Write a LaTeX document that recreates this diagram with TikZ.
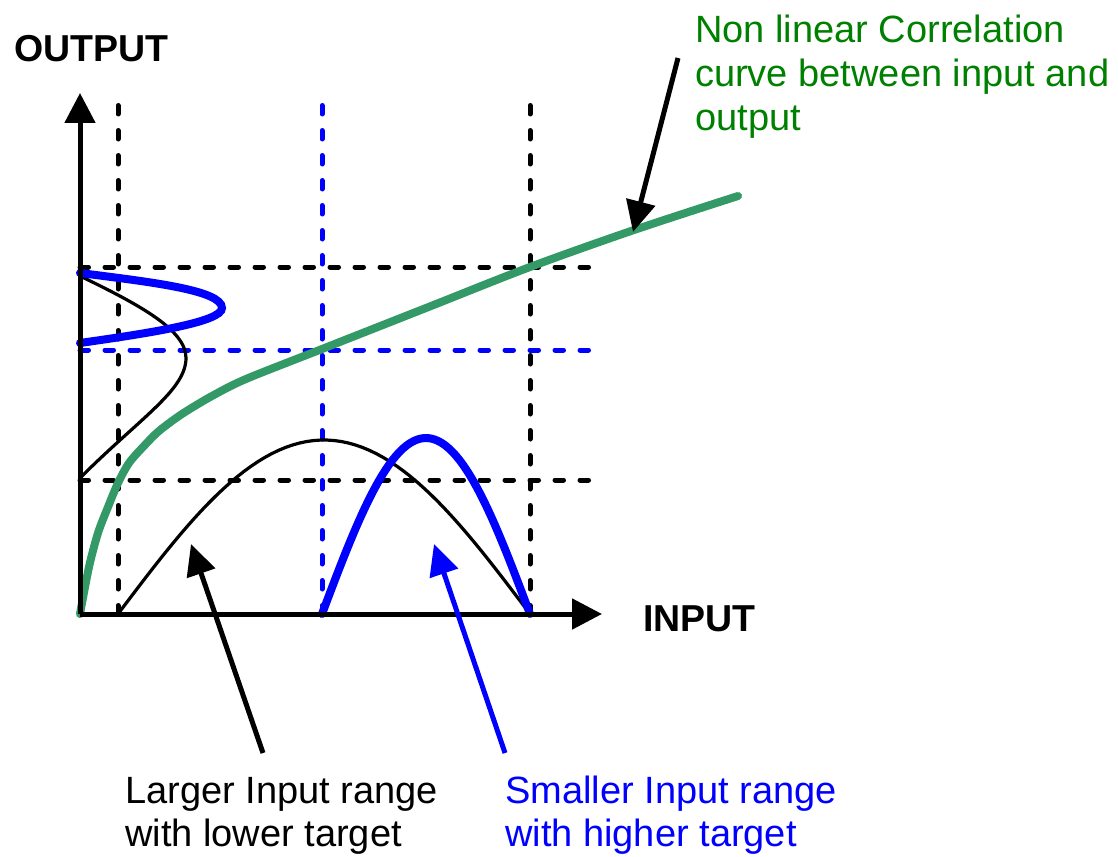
\documentclass[tikz,border=0pt]{standalone}
\usepackage{fontspec}
\setmainfont{Liberation Sans}
\usetikzlibrary{positioning,arrows.meta,calc}
\definecolor{curvegreen}{HTML}{339966}
\definecolor{textgreen}{HTML}{008000}
\definecolor{pureblue}{HTML}{0000FF}

\begin{document}
\begin{tikzpicture}[x=1pt,y=-1pt,
  axis/.style={line width=5pt, -{Triangle[length=30pt,width=30pt]}},
  gridline/.style={line width=5pt, line cap=round, dash pattern=on 8.5pt off 16.5pt},
  pointer/.style={line width=5pt, -{Triangle[length=31pt,width=29pt]}},
  lbl/.style={inner sep=0pt, anchor=base west, align=left, font=\fontsize{38}{43}\selectfont}]
\useasboundingbox (0,0) rectangle (1118,856);
% grid
\coordinate (origin) at (80,614);
\foreach \name/\xx/\top in {ga/118/97, gc/530/95} {
  \draw[gridline] (\xx,614) coordinate (\name b) -- (\xx,\top) coordinate (\name t);
}
\draw[gridline, pureblue] (322,614) coordinate (gbb) -- (322,93) coordinate (gbt);
\foreach \name/\yy in {ha/267, hc/480} {
  \draw[gridline] (80,\yy) coordinate (\name l) -- (596,\yy) coordinate (\name r);
}
\draw[gridline, pureblue] (80,350) coordinate (hbl) -- (596,350) coordinate (hbr);
% distributions
\draw[line width=3.2pt] plot[domain=-1:1, samples=60] ({324+206*\x},{614-174*cos(90*\x)});
\draw[line width=3.2pt] (80,276) .. controls (140,305) and (186,330) .. (186,358)
  .. controls (186,390) and (140,418) .. (80,478);
\draw[pureblue, line width=8pt, line cap=round] plot[domain=-1:1, samples=60] ({426+104*\x},{614-176*cos(90*\x)});
\draw[pureblue, line width=8pt, line cap=round] (80,273) .. controls (150,282) and (222,290) .. (222,308)
  .. controls (222,322) and (150,333) .. (80,343);
% correlation curve
\draw[curvegreen, line width=8pt, line cap=round] plot[smooth, tension=0.5] coordinates
  {(80,614) (89,567) (98,533) (108,507) (118,483) (129,463) (143,447) (159,431) (182,414)
   (212,396) (246,379) (322,349) (426,308) (530,267) (634,230) (738,196)};
% axes
\draw[axis] (origin) -- (80,93) coordinate (ytip);
\draw[axis] (origin) -- (602,614) coordinate (xtip);
\node[inner sep=0pt, anchor=base west, font=\bfseries\fontsize{37.5}{42}\selectfont] (outlbl) at (14,62) {OUTPUT};
\node[inner sep=0pt, anchor=base west, font=\bfseries\fontsize{37.5}{42}\selectfont] (inlbl) at (643,631) {INPUT};
% labels
\node[lbl, textgreen, font=\fontsize{38}{44}\selectfont] (corrlbl) at (695,131) {Non linear Correlation\\curve between input and\\output};
\node[lbl] (largelbl) at (125,846) {Larger Input range\\with lower target};
\node[lbl, pureblue] (smalllbl) at (505,846) {Smaller Input range\\with higher target};
\coordinate (corrtail) at (678,58);
\coordinate (corrtip) at (633,232);
\coordinate (largetail) at (263,753);
\coordinate (largetip) at (191,544);
\coordinate (smalltail) at (505,753);
\coordinate (smalltip) at (434,544);
\draw[pointer] (corrtail) -- (corrtip);
\draw[pointer] (largetail) -- (largetip);
\draw[pointer, pureblue] (smalltail) -- (smalltip);
\end{tikzpicture}
\end{document}
